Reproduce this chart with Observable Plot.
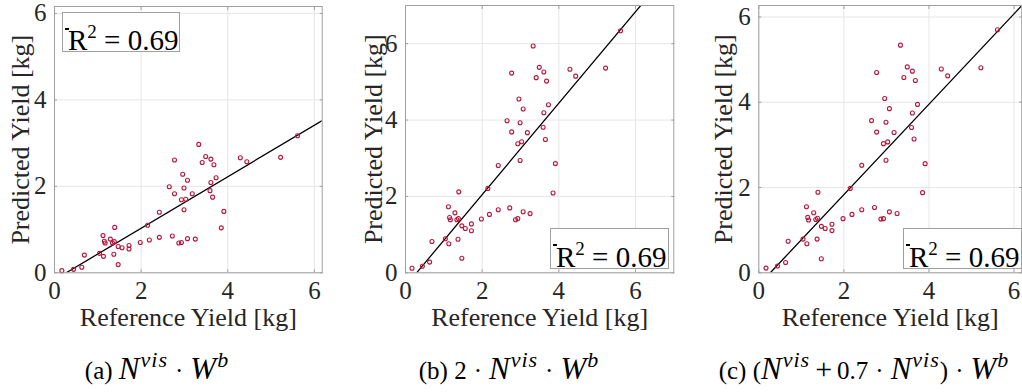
<!DOCTYPE html>
<html><head><meta charset="utf-8">
<script src="https://cdn.jsdelivr.net/npm/d3@7"></script>
<script src="https://cdn.jsdelivr.net/npm/@observablehq/plot@0.6"></script>
<style>
body{margin:0;background:#fff;}
#wrap{position:relative;width:1022px;height:392px;overflow:hidden;font-family:"Liberation Serif",serif;color:#262626;}
#wrap svg, #wrap svg text{font-family:"Liberation Serif",serif !important;}
.panel{position:absolute;top:0;overflow:visible;}
.legend{position:absolute;border:1px solid #a0a0a0;background:#fff;box-sizing:border-box;}
.legend .txt{position:absolute;left:5px;bottom:-4px;font-size:29px;line-height:1;color:#000;white-space:nowrap;}
.legend .txt sup{font-size:19px;vertical-align:0;position:relative;top:-12px;}
.legend .sample{position:absolute;left:1.5px;top:15px;width:4px;height:1.6px;background:#000;}
.cap{position:absolute;top:353px;transform:translateX(-50%);white-space:nowrap;color:#000;font-size:25px;line-height:1;}
.cap i{font-size:31px;}
.cap sup{font-size:22px;font-style:italic;vertical-align:0;position:relative;top:-12px;letter-spacing:1px;margin-left:1px;}
.cap .op{margin:0 7px;}
.cap .plus{font-size:30px;margin:0 5px;}
</style></head><body><div id="wrap"></div><script>
// ---- data ----
const refYield = [0.17,0.44,0.63,0.69,1.04,1.13,1.12,1.15,1.17,1.29,1.34,1.38,1.39,1.37,1.47,1.47,1.56,1.72,1.72,1.98,2.15,2.19,2.42,2.42,2.65,2.77,2.77,2.72,2.87,2.93,2.93,2.96,2.99,2.99,3.03,3.07,3.07,3.18,3.25,3.33,3.41,3.49,3.61,3.68,3.61,3.59,3.65,3.73,3.91,3.85,4.29,4.44,5.22,5.61];
const predA = [0.05,0.08,0.13,0.41,0.45,0.38,0.86,0.73,0.69,0.78,0.69,0.72,1.05,0.43,0.61,0.19,0.58,0.63,0.55,0.70,1.10,0.76,1.40,0.82,1.99,2.61,1.83,0.85,0.69,0.70,1.69,2.28,1.96,1.46,1.70,2.14,0.79,1.83,0.78,2.97,2.55,2.69,2.63,2.50,2.09,1.90,1.75,2.20,1.42,1.04,2.66,2.57,2.67,3.17];
const predB = [0.12,0.17,0.28,0.82,0.89,0.76,1.73,1.45,1.39,1.57,1.39,1.42,2.12,0.88,1.23,0.38,1.16,1.28,1.10,1.41,2.21,1.53,2.81,1.65,3.98,5.23,3.69,1.70,1.39,1.42,3.38,4.55,3.93,2.94,3.43,4.29,1.60,3.67,1.55,5.94,5.11,5.38,5.26,5.02,4.19,3.81,3.49,4.40,2.86,2.09,5.33,5.15,5.36,6.34];
const predC = [0.11,0.16,0.24,0.74,0.79,0.68,1.55,1.30,1.24,1.41,1.25,1.28,1.89,0.79,1.09,0.33,1.04,1.14,0.99,1.27,1.98,1.37,2.52,1.48,3.57,4.70,3.30,1.53,1.26,1.27,3.03,4.09,3.53,2.64,3.07,3.85,1.43,3.29,1.39,5.34,4.58,4.83,4.73,4.51,3.75,3.41,3.14,3.95,2.56,1.88,4.78,4.62,4.81,5.70];
const tickValues = [0, 2, 4, 6];
const fitSlope = [0.596, 1.197, 1.06];
const fitXIntercept = [0.27, 0.29, 0.27];
const xMax = [6.18, 7, 6.18];
const yMax = [6.16, 7, 6.27];
const r2Values = ["0.69", "0.69", "0.69"];
const xLabel = "Reference Yield [kg]";
const yLabel = "Predicted Yield [kg]";

const series = [predA, predB, predC];
const layout = [
  {left:0,   w:340, ml:54,   mr:18.3, mt:6, ydx:-34, leg:{left:62, top:12, w:118, h:40}},
  {left:340, w:340, ml:65,   mr:6.7,  mt:5, ydx:-32, leg:{left:550, top:228, w:119, h:41}},
  {left:680, w:342, ml:78.3, mr:0.8,  mt:5, ydx:-35, leg:{left:903, top:228, w:119, h:41}}
];
const captions = [
  '(a) <i>N</i><sup>vis</sup><span class="op">·</span><i>W</i><sup>b</sup>',
  '(b) 2<span class="op">·</span><i>N</i><sup>vis</sup><span class="op">·</span><i>W</i><sup>b</sup>',
  '(c) (<i>N</i><sup>vis</sup><span class="plus">+</span>0.7<span class="op">·</span><i>N</i><sup>vis</sup>)<span class="op">·</span><i>W</i><sup>b</sup>'
];
const capCenters = [157, 509, 864];

const wrap = document.getElementById("wrap");
const font = '"Liberation Serif", serif';

series.forEach((ys, i) => {
  const L = layout[i];
  const data = refYield.map((x, k) => ({x, y: ys[k]}));
  const fit = [fitXIntercept[i], xMax[i]].map(x => ({x, y: fitSlope[i] * (x - fitXIntercept[i])}));
  const chart = Plot.plot({
    width: L.w, height: 340,
    marginLeft: L.ml, marginRight: L.mr, marginTop: L.mt, marginBottom: 67.7,
    style: {background: "transparent"},
    x: {domain: [0, xMax[i]]},
    y: {domain: [0, yMax[i]]},
    marks: [
      Plot.gridX(tickValues, {stroke: "#e6e6e6", strokeOpacity: 1}),
      Plot.gridY(tickValues, {stroke: "#e6e6e6", strokeOpacity: 1}),
      Plot.line(fit, {x: "x", y: "y", stroke: "#000", strokeWidth: 1.3, clip: true}),
      Plot.dot(data, {x: "x", y: "y", r: 2, stroke: "#b8163c", strokeWidth: 1.1}),
      Plot.frame({stroke: "#a0a0a0"}),
      Plot.axisX(tickValues, {anchor: "bottom", tickSize: 0, tickPadding: 8, fontSize: 25, fontFamily: font, fill: "#262626", label: null}),
      Plot.axisY(tickValues, {anchor: "left", tickSize: 0, tickPadding: 8, fontSize: 25, fontFamily: font, fill: "#262626", label: null}),
      Plot.axisX(tickValues, {anchor: "bottom", tickSize: -3, stroke: "#a0a0a0", tickFormat: () => "", label: null}),
      Plot.axisX(tickValues, {anchor: "top", tickSize: -3, stroke: "#a0a0a0", tickFormat: () => "", label: null}),
      Plot.axisY(tickValues, {anchor: "left", tickSize: -3, stroke: "#a0a0a0", tickFormat: () => "", label: null}),
      Plot.axisY(tickValues, {anchor: "right", tickSize: -3, stroke: "#a0a0a0", tickFormat: () => "", label: null}),
      Plot.text([xLabel], {text: d => d, frameAnchor: "bottom", dy: 53, fontSize: 26, fontFamily: font, fill: "#262626"}),
      Plot.text([yLabel], {text: d => d, frameAnchor: "left", textAnchor: "middle", lineAnchor: "middle", dx: L.ydx, rotate: -90, fontSize: 26, fontFamily: font, fill: "#262626"})
    ]
  });
  chart.classList.add("panel");
  chart.style.left = L.left + "px";
  wrap.appendChild(chart);

  const leg = document.createElement("div");
  leg.className = "legend";
  Object.assign(leg.style, {left: L.leg.left + "px", top: L.leg.top + "px", width: L.leg.w + "px", height: L.leg.h + "px"});
  leg.innerHTML = `<div class="sample"></div><div class="txt">R<sup>2</sup> = ${r2Values[i]}</div>`;
  wrap.appendChild(leg);

  const cap = document.createElement("div");
  cap.className = "cap";
  cap.style.left = capCenters[i] + "px";
  cap.innerHTML = captions[i];
  wrap.appendChild(cap);
});
</script></body></html>
